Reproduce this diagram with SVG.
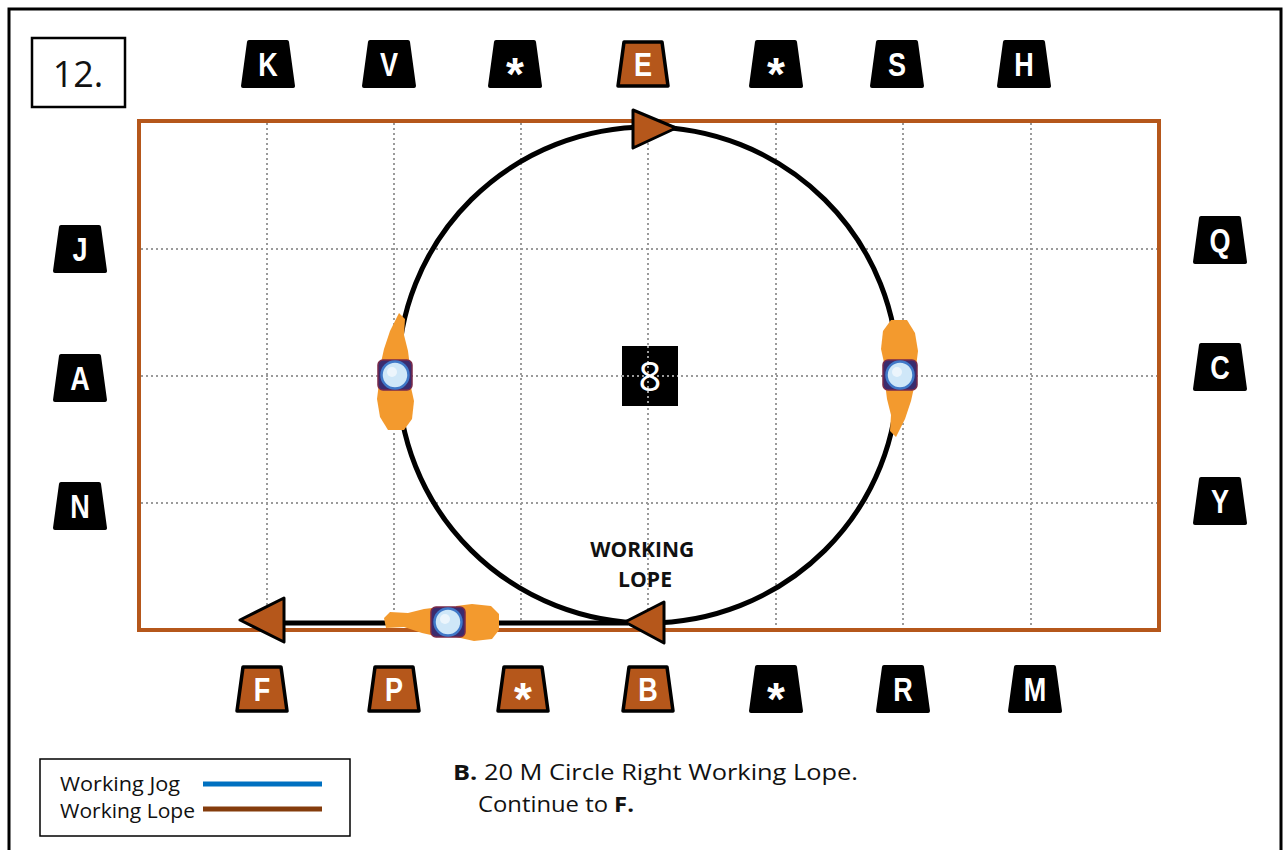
<svg xmlns="http://www.w3.org/2000/svg" width="1283" height="850" viewBox="0 0 1283 850">
  <style>
    .frame { fill: none; stroke: #000; stroke-width: 3; }
    .arena { fill: none; stroke: #B5571B; stroke-width: 4; }
    .grid { stroke: #9a9a9a; stroke-width: 2; stroke-dasharray: 2 3; fill: none; }
    .path { fill: none; stroke: #000; stroke-width: 5; }
    .arrow { fill: #B5571B; stroke: #000; stroke-width: 3; stroke-linejoin: round; }
    .mk-black { fill: #000; stroke: #000; stroke-width: 4; stroke-linejoin: round; }
    .mk-brown { fill: #B5571B; stroke: #000; stroke-width: 3.5; stroke-linejoin: round; }
    .mk-text { fill: #fff; font-family: "Liberation Sans Narrow", "Liberation Sans", Arial, sans-serif; font-weight: bold; font-size: 33px; text-anchor: middle; }
    .mk-star { fill: #fff; font-family: "Liberation Sans", Arial, sans-serif; font-weight: bold; font-size: 46px; text-anchor: middle; }
    .label { font-family: "Open Sans", "Liberation Sans", Arial, sans-serif; fill: #111; }
    .horse { fill: #F39A2E; }
    .saddle { fill: #3A2B6E; stroke: #7a2a4a; stroke-width: 1.5; }
    .rider { fill: #CFE7F8; stroke: #3f78c8; stroke-width: 2.5; }
  </style>
  <defs>
    <path id="mk" d="M-19,-22 H19 L25,22 H-25 Z"/>
    <g id="rider-set">
      <rect class="saddle" x="-17" y="-15" width="34" height="30" rx="5"/>
      <circle class="rider" r="13.5"/>
      <circle cx="-3" cy="-3" r="5" fill="#ffffff" opacity="0.6"/>
    </g>
  </defs>

  <rect width="1283" height="850" fill="#fff"/>
  <!-- outer frame -->
  <path class="frame" d="M9,870 V9 H1281 V870"/>

  <!-- pattern number -->
  <g id="number">
    <rect x="32" y="38" width="93" height="69" fill="#fff" stroke="#000" stroke-width="2.5"/>
    <text x="78" y="87" class="label" font-size="36" text-anchor="middle">12.</text>
  </g>

  <!-- arena grid and fence -->
  <g id="arena">
    <g class="grid">
      <path d="M267,123 V629 M394,123 V629 M521,123 V629 M648,123 V629 M776,123 V629 M903,123 V629 M1031,123 V629"/>
      <path d="M141,249 H1157 M141,376 H1157 M141,503 H1157"/>
    </g>
    <rect class="arena" x="139" y="121" width="1020" height="509"/>
  </g>

  <!-- centre marker -->
  <g id="center-8">
    <rect x="622" y="346" width="56" height="60" fill="#000"/>
    <path class="grid" d="M648,346 V406 M622,376 H678"/>
    <text x="650" y="391" fill="#fff" font-family="'Open Sans', 'Liberation Sans', sans-serif" font-size="40" text-anchor="middle">8</text>
  </g>

  <!-- ridden pattern -->
  <g id="connectors">
    <ellipse class="path" cx="648" cy="375" rx="250" ry="248"/>
    <path class="path" d="M628,623 H282" stroke-width="6"/>
    <path class="arrow" d="M633,110 L676,128 L633,148 Z"/>
    <path class="arrow" d="M664,602 L625,622 L664,643 Z"/>
    <path class="arrow" d="M284,598 L240,620 L284,642 Z"/>
  </g>

  <!-- horses -->
  <g id="horse-left" transform="translate(395,375)">
    <path class="horse" d="M4,-62 L10,-56 L9,-40 L13,-24 L15,-8 L-15,-8 L-11,-26 L-5,-44 Z"/>
    <path class="horse" d="M-16,8 L15,8 L19,26 L17,44 L9,55 L-7,55 L-15,42 L-18,24 Z"/>
    <use href="#rider-set"/>
  </g>
  <g id="horse-right" transform="translate(900,375)">
    <path class="horse" d="M-4,62 L-10,56 L-9,40 L-13,24 L-15,8 L15,8 L11,26 L5,44 Z"/>
    <path class="horse" d="M16,-8 L-15,-8 L-19,-26 L-17,-44 L-9,-55 L7,-55 L15,-42 L18,-24 Z"/>
    <use href="#rider-set"/>
  </g>
  <g id="horse-bottom" transform="translate(448,622)">
    <path class="horse" d="M-64,-4 L-58,-10 L-40,-9 L-24,-13 L-8,-15 L-8,15 L-26,11 L-44,5 L-62,6 Z"/>
    <path class="horse" d="M8,-16 L8,15 L26,19 L44,17 L51,8 L51,-8 L43,-16 L24,-18 Z"/>
    <use href="#rider-set"/>
  </g>

  <text class="label" font-weight="bold" font-size="21" text-anchor="middle">
    <tspan x="645" y="557" textLength="104" lengthAdjust="spacingAndGlyphs">WORKING</tspan>
    <tspan x="645" y="587" textLength="54" lengthAdjust="spacingAndGlyphs">LOPE</tspan>
  </text>

  <!-- top markers -->
  <g id="m-K" transform="translate(268,64)"><use href="#mk" class="mk-black"/><text class="mk-text" y="12" transform="scale(0.82,1)">K</text></g>
  <g id="m-V" transform="translate(389,64)"><use href="#mk" class="mk-black"/><text class="mk-text" y="12" transform="scale(0.82,1)">V</text></g>
  <g id="m-top-star1" transform="translate(515,64)"><use href="#mk" class="mk-black"/><text class="mk-star" y="26">*</text></g>
  <g id="m-E" transform="translate(643,64)"><use href="#mk" class="mk-brown"/><text class="mk-text" y="12" transform="scale(0.82,1)">E</text></g>
  <g id="m-top-star2" transform="translate(776,64)"><use href="#mk" class="mk-black"/><text class="mk-star" y="26">*</text></g>
  <g id="m-S" transform="translate(897,64)"><use href="#mk" class="mk-black"/><text class="mk-text" y="12" transform="scale(0.82,1)">S</text></g>
  <g id="m-H" transform="translate(1024,64)"><use href="#mk" class="mk-black"/><text class="mk-text" y="12" transform="scale(0.82,1)">H</text></g>

  <!-- side markers -->
  <g id="m-J" transform="translate(80,249)"><use href="#mk" class="mk-black"/><text class="mk-text" y="12" transform="scale(0.82,1)">J</text></g>
  <g id="m-A" transform="translate(80,378)"><use href="#mk" class="mk-black"/><text class="mk-text" y="12" transform="scale(0.82,1)">A</text></g>
  <g id="m-N" transform="translate(80,506)"><use href="#mk" class="mk-black"/><text class="mk-text" y="12" transform="scale(0.82,1)">N</text></g>
  <g id="m-Q" transform="translate(1220,240)"><use href="#mk" class="mk-black"/><text class="mk-text" y="12" transform="scale(0.82,1)">Q</text></g>
  <g id="m-C" transform="translate(1220,367)"><use href="#mk" class="mk-black"/><text class="mk-text" y="12" transform="scale(0.82,1)">C</text></g>
  <g id="m-Y" transform="translate(1220,501)"><use href="#mk" class="mk-black"/><text class="mk-text" y="12" transform="scale(0.82,1)">Y</text></g>

  <!-- bottom markers -->
  <g id="m-F" transform="translate(262,689)"><use href="#mk" class="mk-brown"/><text class="mk-text" y="12" transform="scale(0.82,1)">F</text></g>
  <g id="m-P" transform="translate(394,689)"><use href="#mk" class="mk-brown"/><text class="mk-text" y="12" transform="scale(0.82,1)">P</text></g>
  <g id="m-bot-star1" transform="translate(523,689)"><use href="#mk" class="mk-brown"/><text class="mk-star" y="26">*</text></g>
  <g id="m-B" transform="translate(648,689)"><use href="#mk" class="mk-brown"/><text class="mk-text" y="12" transform="scale(0.82,1)">B</text></g>
  <g id="m-bot-star2" transform="translate(776,689)"><use href="#mk" class="mk-black"/><text class="mk-star" y="26">*</text></g>
  <g id="m-R" transform="translate(903,689)"><use href="#mk" class="mk-black"/><text class="mk-text" y="12" transform="scale(0.82,1)">R</text></g>
  <g id="m-M" transform="translate(1035,689)"><use href="#mk" class="mk-black"/><text class="mk-text" y="12" transform="scale(0.82,1)">M</text></g>

  <!-- legend -->
  <g id="legend">
    <rect x="40" y="759" width="310" height="77" fill="#fff" stroke="#000" stroke-width="1.5"/>
    <text class="label" x="60" y="791" font-size="20" textLength="120" lengthAdjust="spacingAndGlyphs">Working Jog</text>
    <text class="label" x="60" y="818" font-size="20" textLength="135" lengthAdjust="spacingAndGlyphs">Working Lope</text>
    <line x1="203" y1="784" x2="322" y2="784" stroke="#0070C0" stroke-width="5"/>
    <line x1="203" y1="809" x2="322" y2="809" stroke="#843C0C" stroke-width="5"/>
  </g>

  <!-- instruction -->
  <g id="instruction">
    <text class="label" x="453" y="780" font-size="22" textLength="405" lengthAdjust="spacingAndGlyphs"><tspan font-weight="bold">B.</tspan> 20 M Circle Right Working Lope.</text>
    <text class="label" x="478" y="812" font-size="22" textLength="156" lengthAdjust="spacingAndGlyphs">Continue to <tspan font-weight="bold">F.</tspan></text>
  </g>
</svg>
